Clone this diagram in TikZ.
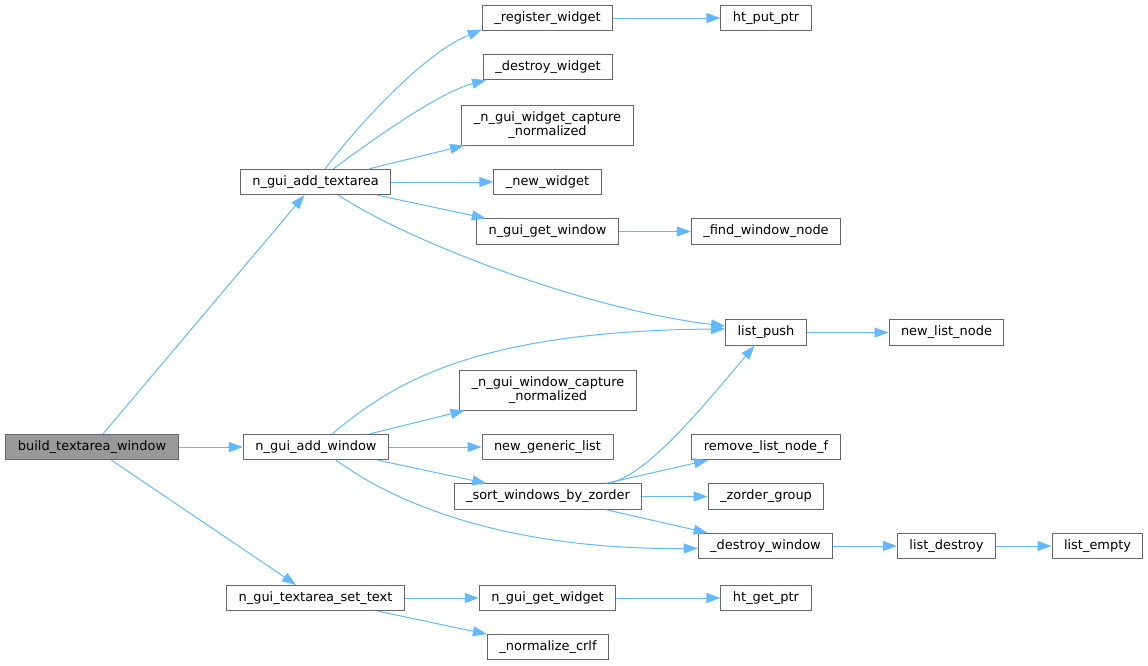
\documentclass[tikz,border=0pt]{standalone}
\usepackage{fontspec}
\setmainfont{DejaVu Sans}
\usetikzlibrary{arrows.meta}
\definecolor{edgeblue}{HTML}{63B8FF}
\definecolor{boxgray}{HTML}{666666}
\definecolor{rootgray}{HTML}{999999}
\tikzset{
  fn/.style={draw=boxgray, line width=0.75pt, fill=white, inner xsep=9pt,
    inner ysep=0pt, minimum height=19pt, align=center,
    font=\fontsize{9.7}{10.5}\selectfont},
  fnroot/.style={fn, fill=rootgray},
  fntwo/.style={fn, minimum height=30pt},
  call/.style={draw=edgeblue, line width=0.75pt,
    -{Triangle[length=10.5pt,width=7.5pt]}},
}
\begin{document}
\begin{tikzpicture}[x=0.75pt, y=-0.75pt]
    \useasboundingbox (0,0) rectangle (1148,665);

    % Define nodes
    \node[fnroot] (root)    at (92,447)    {build\_textarea\_window};
    \node[fn]     (addta)   at (315.5,182) {n\_gui\_add\_textarea};
    \node[fn]     (addwin)  at (316,447)   {n\_gui\_add\_window};
    \node[fn]     (settxt)  at (315.5,598) {n\_gui\_textarea\_set\_text};
    \node[fn]     (regw)    at (547.5,18)  {\_register\_widget};
    \node[fn]     (htput)   at (766,18)    {ht\_put\_ptr};
    \node[fn]     (dstw)    at (548,67)    {\_destroy\_widget};
    \node[fntwo]  (wcap)    at (547.5,125) {\_n\_gui\_widget\_capture\\\_normalized};
    \node[fn]     (neww)    at (547.5,182) {\_new\_widget};
    \node[fn]     (getwin)  at (547.5,231.5) {n\_gui\_get\_window};
    \node[fn]     (findwin) at (766,231.5) {\_find\_window\_node};
    \node[fn]     (lpush)   at (766,332.5) {list\_push};
    \node[fn]     (newln)   at (946.5,332.5) {new\_list\_node};
    \node[fntwo]  (wincap)  at (548,390)   {\_n\_gui\_window\_capture\\\_normalized};
    \node[fn]     (newgl)   at (547.5,447) {new\_generic\_list};
    \node[fn]     (rmln)    at (766,447)   {remove\_list\_node\_f};
    \node[fn]     (sortw)   at (548,496.5) {\_sort\_windows\_by\_zorder};
    \node[fn]     (zgrp)    at (766,496.5) {\_zorder\_group};
    \node[fn]     (dstwin)  at (765.5,546) {\_destroy\_window};
    \node[fn]     (ldst)    at (946.5,546) {list\_destroy};
    \node[fn]     (lempty)  at (1097.5,546) {list\_empty};
    \node[fn]     (getwid)  at (547.5,598) {n\_gui\_get\_widget};
    \node[fn]     (htget)   at (766,598)   {ht\_get\_ptr};
    \node[fn]     (normcr)  at (548,647)   {\_normalize\_crlf};

    % Connect the nodes
    \draw[call] (root) -- (addta);
    \draw[call] (root) -- (addwin);
    \draw[call] (root) -- (settxt);

    \draw[call] (addta) .. controls (350,135) and (420,55) .. (regw.190);
    \draw[call] (addta) .. controls (375,138) and (440,92) .. (dstw.192);
    \draw[call] (addta) -- (wcap);
    \draw[call] (addta) -- (neww);
    \draw[call] (addta) -- (getwin);
    \draw[call] (addta.-30) .. controls (415,245) and (590,310) .. (lpush.171);
    \draw[call] (regw) -- (htput);
    \draw[call] (getwin) -- (findwin);

    \draw[call] (addwin.39) .. controls (388,388) and (465,331) .. (lpush.175);
    \draw[call] (addwin) -- (wincap);
    \draw[call] (addwin) -- (newgl);
    \draw[call] (addwin) -- (sortw);
    \draw[call] (addwin.-33) .. controls (390,500) and (500,550) .. (dstwin.182);
    \draw[call] (lpush) -- (newln);

    \draw[call] (sortw.12) .. controls (650,472) and (700,410) .. (lpush.229);
    \draw[call] (sortw) -- (rmln);
    \draw[call] (sortw) -- (zgrp);
    \draw[call] (sortw) -- (dstwin);
    \draw[call] (dstwin) -- (ldst);
    \draw[call] (ldst) -- (lempty);

    \draw[call] (settxt) -- (getwid);
    \draw[call] (settxt) -- (normcr);
    \draw[call] (getwid) -- (htget);
\end{tikzpicture}
\end{document}
